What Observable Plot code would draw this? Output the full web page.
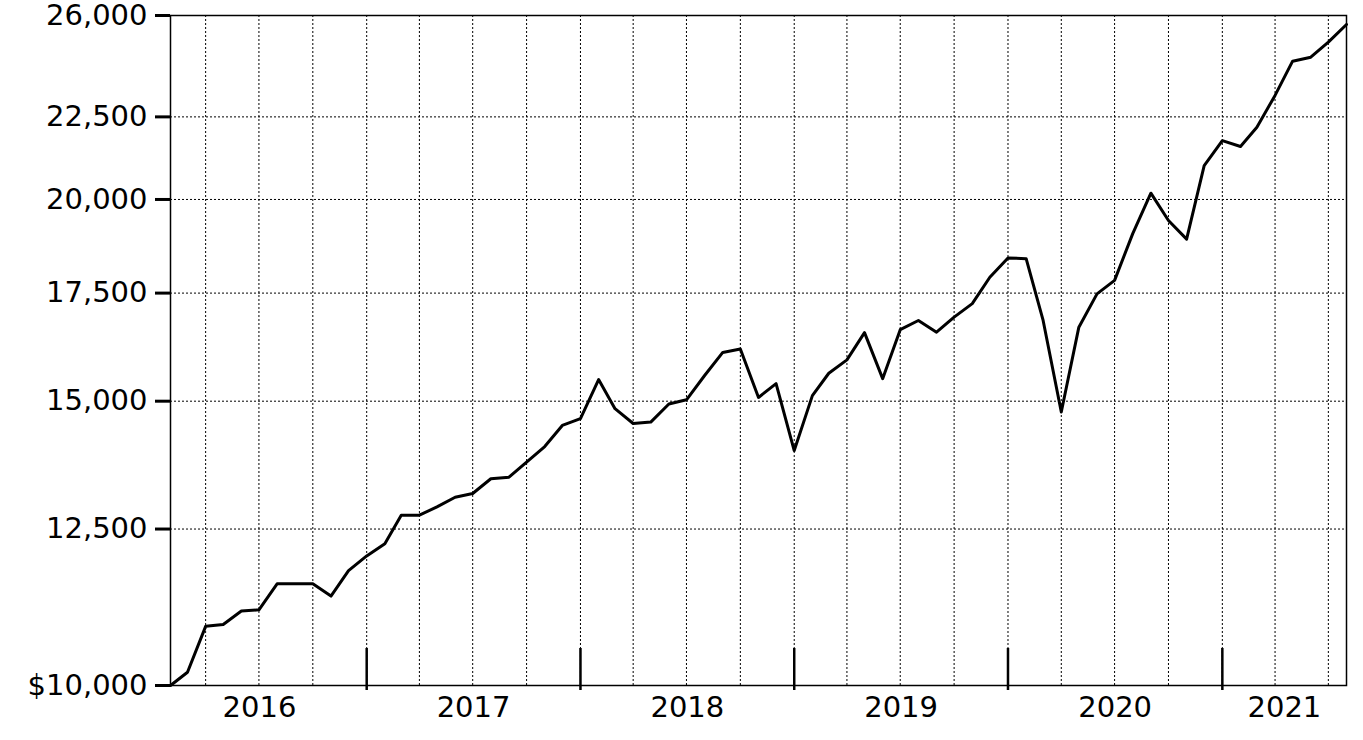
<!DOCTYPE html>
<html>
<head>
<meta charset="utf-8">
<script src="https://cdn.jsdelivr.net/npm/d3@7"></script>
<script src="https://cdn.jsdelivr.net/npm/@observablehq/plot@0.6"></script>
<style>
  html, body { margin: 0; padding: 0; background: #fff; }
  #chart svg { font-family: "DejaVu Sans", Verdana, sans-serif; }
</style>
</head>
<body>
<div id="chart"></div>
<script>
// Monthly growth of $10,000 (Feb 2016 – Aug 2021)
const startMonth = "2016-02-01";
const endMonth = "2021-08-01";
const values = [
  10000, 10190, 10880, 10910, 11120, 11140, 11560, 11560, 11560, 11360, 11780,
  12030, 12240, 12750, 12750, 12900, 13080, 13150, 13430, 13460, 13750, 14060,
  14490, 14630, 15470, 14840, 14530, 14560, 14940, 15030, 15560, 16080, 16160,
  15080, 15380, 13980, 15120, 15610, 15910, 16540, 15490, 16610, 16830, 16550,
  16910, 17240, 17900, 18400, 18380, 16830, 14770, 16670, 17480, 17820, 19050,
  20180, 19410, 18900, 20990, 21750, 21570, 22170, 23200, 24360, 24500, 25030,
  25670
];
const yTicks = [10000, 12500, 15000, 17500, 20000, 22500, 26000];
const yearLabels = ["2016", "2017", "2018", "2019", "2020", "2021"];

const t0 = new Date(startMonth), t1 = new Date(endMonth);
const months = d3.utcMonth.range(t0, d3.utcMonth.offset(t1, 1));
const data = months.map((d, i) => ({date: d, value: values[i]}));

const quarterLines = d3.utcMonth.range(new Date("2016-04-01"), d3.utcDay.offset(t1, 1), 3);
const yearStarts = yearLabels.slice(1).map(y => new Date(`${y}-01-01`));
const yearMid = yearLabels.map(y => {
  const a = new Date(`${y}-01-01`);
  const b = d3.min([new Date(`${+y + 1}-01-01`), t1]);
  return {label: y, date: new Date((+a + +b) / 2)};
});

const fmt = d3.format(",");
const chart = Plot.plot({
  width: 1363,
  height: 740,
  marginLeft: 170,
  marginRight: 17,
  marginTop: 15,
  marginBottom: 55,
  style: {fontFamily: "DejaVu Sans, Verdana, sans-serif", color: "#000", background: "#fff"},
  x: {type: "utc", domain: [t0, t1], axis: null},
  y: {type: "log", domain: [10000, 26000], axis: null},
  marks: [
    Plot.ruleY(yTicks.slice(1, -1), {stroke: "#000", strokeWidth: 1, strokeDasharray: "2,2"}),
    Plot.ruleX(quarterLines, {stroke: "#000", strokeWidth: 1, strokeDasharray: "2,2"}),
    Plot.frame({stroke: "#000", strokeWidth: 1.5}),
    Plot.ruleX(yearStarts, {stroke: "#000", strokeWidth: 2.5, insetTop: 633, insetBottom: -5}),
    Plot.axisY({
      ticks: yTicks,
      label: null,
      tickSize: 15,
      tickPadding: 8,
      strokeWidth: 3,
      fontSize: 29,
      tickFormat: d => d === 10000 ? "$" + fmt(d) : fmt(d)
    }),
    Plot.text(yearMid, {
      x: "date", text: "label", frameAnchor: "bottom", lineAnchor: "top",
      dy: 11, fontSize: 29, fill: "#000"
    }),
    Plot.lineY(data, {x: "date", y: "value", stroke: "#000", strokeWidth: 3})
  ]
});
document.getElementById("chart").append(chart);
</script>
</body>
</html>
